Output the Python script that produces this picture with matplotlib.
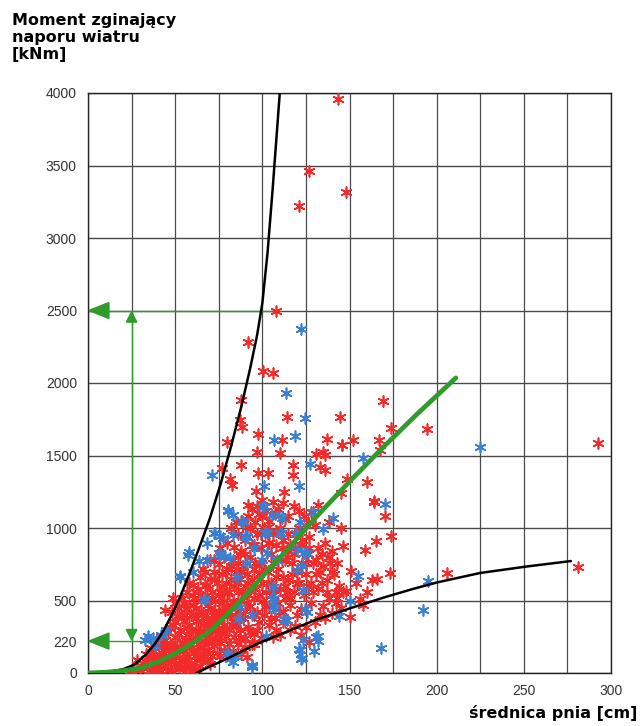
import matplotlib
matplotlib.use("Agg")
import matplotlib.pyplot as plt
from matplotlib.patches import Polygon

# ---------------- data ----------------
x_ticks = [0, 50, 100, 150, 200, 250, 300]
y_ticks = [0, 220, 500, 1000, 1500, 2000, 2500, 3000, 3500, 4000]
x_grid = [0, 25, 50, 75, 100, 125, 150, 175, 200, 225, 250, 275, 300]
y_grid = [0, 500, 1000, 1500, 2000, 2500, 3000, 3500, 4000]

red_pts = [
    # dense bottom
    (30,20),(32,60),(34,35),(35,110),(36,10),(38,80),(38,150),(40,40),(40,190),(41,120),(42,15),(43,70),
    (44,230),(44,160),(45,50),(46,100),(46,280),(47,20),(48,200),(48,140),(49,330),(50,60),(50,250),(51,170),
    (52,110),(52,30),(53,300),(54,210),(54,80),(55,360),(55,150),(56,40),(57,260),(57,120),(58,330),(58,190),
    (59,70),(60,20),(60,240),(60,400),(61,140),(62,300),(62,90),(63,200),(63,360),(64,50),(64,170),(65,260),
    (65,420),(66,120),(66,330),(67,220),(68,80),(68,380),(69,160),(69,290),(70,60),(70,450),(71,240),(71,120),
    (72,340),(72,190),(73,410),(74,270),(74,140),(75,370),(76,210),(76,120),(77,310),(77,480),(78,160),(79,250),
    (80,390),(80,130),(81,300),(81,200),(82,450),(83,150),(84,350),(84,250),(86,200),(86,420),(87,300),(88,130),
    (89,380),(90,240),(90,180),(92,320),(94,200),(95,270),(98,350),(99,240),(36,170),(39,5),(42,250),(47,320),
    (51,390),(56,440),(58,50),(61,10),(63,130),(66,180),(69,340),(74,230),(76,280),(87,250),(95,200),(33,130),
    (37,40),(45,180),(49,100),(53,180),(57,310),(59,400),(64,290),(68,250),(71,380),(78,330),(82,400),(26,30),
    (28,90),(24,15),(91,110),(55,10),(48,5),(44,110),(62,30),(67,150),(73,300),(79,440),(85,330),(93,280),
    (31,45),(33,85),(35,60),(37,120),(39,100),(41,75),(43,140),(45,210),(47,90),(49,170),(50,350),(52,270),
    (53,60),(54,380),(56,230),(57,90),(59,300),(60,160),(61,470),(62,380),(63,270),(64,540),(65,90),(66,410),
    (67,290),(69,210),(70,350),(72,430),(74,360),(76,410),(78,280),(81,420),(83,330),(84,480),(87,380),
    (91,480),(95,400),(97,300),(102,460),(105,380),(110,420),(44,434),(49,515),(55,480),(60,540),
    # band above
    (48,420),(50,480),(52,450),(54,520),(55,400),(57,560),(58,470),(60,610),(61,520),(62,450),(63,580),(64,660),
    (65,500),(66,720),(67,600),(68,540),(69,470),(70,650),(70,780),(71,560),(72,700),(73,500),(74,620),(75,750),
    (75,430),(76,560),(77,680),(78,800),(78,500),(79,620),(80,460),(80,720),(81,560),(82,650),(83,780),(83,500),
    (84,600),(85,700),(85,450),(86,560),(87,820),(87,650),(88,500),(89,740),(90,600),(90,430),(91,680),(92,540),
    (93,800),(93,460),(94,640),(95,720),(95,520),(96,580),(97,420),(98,680),(99,760),(100,500),(100,620),(101,400),
    (102,560),(103,700),(104,460),(105,620),(106,540),(107,380),(108,660),(109,480),(110,580),(112,420),(113,520),
    (115,640),(116,470),(118,560),(120,400),(104,330),(108,300),(112,350),(116,300),(106,250),(110,260),
    (68,610),(71,520),(73,650),(75,540),(77,590),(79,700),(80,550),(82,740),(85,620),(86,760),(88,700),
    (89,560),(90,820),(92,620),(94,880),(96,760),(98,540),(99,860),(101,720),(103,620),(104,900),(106,760),
    (107,580),(108,980),(109,720),(111,860),(112,660),(113,780),(114,560),(115,960),(117,680),(119,860),
    (121,620),(123,920),(125,760),(127,860),(129,560),(131,680),(134,620),(137,560),(140,700),(143,520),
    (58,620),(67,700),(72,780),(76,860),
    # middle cluster
    (80,900),(82,1000),(84,870),(86,960),(88,1050),(88,840),(90,920),(92,1080),(93,1000),(94,1130),(95,880),
    (96,1040),(97,1150),(98,1100),(99,960),(100,1080),(101,1000),(102,1120),(103,900),(104,1050),(105,820),
    (106,960),(107,1100),(108,880),(110,1000),(111,780),(112,920),(113,1060),(114,840),(115,800),(116,880),
    (117,760),(118,820),(119,960),(120,700),(121,1000),(122,880),(123,760),(124,1080),(125,680),(126,820),
    (127,940),(128,620),(129,760),(130,1020),(131,780),(132,860),(133,700),(134,820),(135,740),(136,900),
    (137,640),(138,800),(139,760),(140,840),(141,680),(142,560),(143,760),(144,600),(145,1000),(138,1040),
    (128,1110),(118,1150),(112,1170),(106,1180),(100,1190),(92,1160),(132,1160),
    (97,960),(91,1010),(85,1040),(103,1010),(109,1130),(115,1080),(121,1120),(126,1040),
    # right of green line
    (120,620),(124,540),(128,480),(132,580),(135,460),(138,520),(140,417),(133,403),(142,480),(146,560),
    (148,566),(150,383),(151,704),(154,620),(156,509),(158,470),(125,314),(119,325),(127,211),(116,520),
    (122,440),(130,350),(136,380),(145,450),(160,560),(163,640),(166,647),(173,692),(206,688),(126,600),
    (113,600),(122,260),
    # scattered upper
    (143.6,3959),(127,3464),(148,3315),(121.2,3221),(107.8,2499),(92,2285),(100.6,2085),(105.9,2071),
    (87.8,1883),(114.3,1768),(144.6,1768),(87.2,1745),(88.2,1699),(97.7,1648),(111,1607),(80,1596),
    (137.3,1612),(145.5,1572),(152.2,1607),(96.7,1526),(110,1519),(131,1510),(136,1503),(76.7,1411),
    (87.6,1434),(97.7,1377),(103.4,1381),(117.8,1434),(117.8,1365),(133,1423),(136,1400),(148.4,1336),
    (159.9,1320),(81.5,1336),(82.4,1297),(96.4,1258),(112.4,1250),(164,1181),(169.2,1874),(174,1690),
    (194.2,1683),(166.9,1605),(167.3,1537),(134.6,1523),(145.8,1571),(145.2,1243),(163.8,1186),(170.2,1082),
    (174,945),(165.4,910),(158.7,848),(146.2,876),(292.5,1585),(281.3,729),
]
red_x = [p[0] for p in red_pts]
red_y = [p[1] for p in red_pts]

blue_pts = [
    (122.2,2372),(113.6,1929),(124.5,1761),(106.7,1607),(118.7,1634),(158,1480),(71,1365),(127.3,1439),
    (101.1,1290),(121.2,1290),(170.4,1166),(224.9,1556),(194.8,634),(192.3,435),(167.9,169),(154.8,670),
    (150,497),(144.2,390),(123.5,229),(120.8,165),(122.1,96),(131.7,257),(131.7,222),(129.8,153),(93.8,55),
    (81.7,96),(84.6,119),(112.5,371),(102,257),(105.8,509),(107.3,440),(124.6,440),(57.7,835),(52.9,669),
    (63.5,773),(75,830),(78.8,807),(68.3,899),(72,968),(76,945),(80.2,1117),(88.5,1048),(90.4,945),
    (101,1151),(102.9,968),(110.6,968),(109.6,1082),(119.2,968),(124,830),(123,738),(134.6,991),
    (140.4,1071),(106.7,520),(86.5,371),(66.3,509),(34.6,257),(38.5,188),(32.7,228),(37.5,239),(57.5,814),
    (68.1,779),(85.3,664),(114,366),(131,250),(121.6,159),(93.9,43),(83.4,78),(122.6,101),(79.6,136),
    (91,940),(83.4,952),(52.8,664),(125.4,423),(95,860),(60,700),(45,300),(42,260),(100,780),
    (80.5,1124),(89,1043),(83.4,1090),(100.6,1147),(105.4,1090),(111,1067),(121.6,1043),(129.2,1112),
    (72.8,963),(77.6,929),(90,940),(101.5,963),(110.1,963),(75.7,814),(81.5,791),(91,757),(102.5,826),
    (108.2,779),(119.7,848),(125.4,826),(106.3,595),(123.5,572),(119.7,710),(67.1,503),(87.2,457),
    (106.3,457),(113,366),(93.9,400),
]
blue_x = [p[0] for p in blue_pts]
blue_y = [p[1] for p in blue_pts]

upper_x = [0, 10, 20, 27, 33, 38, 43, 48, 53, 58, 64, 70, 76, 82, 88, 93, 97, 100, 103, 106, 110]
upper_y = [0, 6, 25, 60, 125, 195, 285, 400, 530, 680, 870, 1070, 1300, 1560, 1840, 2100, 2330, 2550, 2900, 3350, 4000]

lower_x = [62, 66, 70, 80, 90, 98, 115, 131, 150, 169, 185, 200, 225, 252, 277]
lower_y = [0, 22, 45, 100, 160, 206, 290, 368, 445, 518, 575, 624, 690, 735, 772]

green_x = [0, 10, 20, 30, 40, 50, 60, 70, 80, 90, 100, 115, 131, 150, 170, 190, 211]
green_y = [0, 5, 15, 35, 75, 135, 205, 290, 405, 530, 665, 860, 1078, 1320, 1565, 1800, 2035]

level_low = 220
level_high = 2500
arrow_x = 25

# ---------------- figure ----------------
W, H = 642, 726
fig = plt.figure(figsize=(W / 100, H / 100), dpi=100)
ax = fig.add_axes([88 / W, 1 - 673 / H, 523 / W, 580 / H])
ax.set_xlim(0, 300)
ax.set_ylim(0, 4000)

grid_col = "#4a4a4a"
for gx in x_grid:
    ax.axvline(gx, color=grid_col, lw=0.9, zorder=1)
for gy in y_grid:
    ax.axhline(gy, color=grid_col, lw=1.0, zorder=1)

green = "#2e9b2a"
ax.plot([0, 110], [level_high, level_high], color=green, lw=1.0, zorder=2)
ax.plot([0, 100], [level_low, level_low], color=green, lw=1.0, zorder=2)
ax.plot([arrow_x, arrow_x], [level_low, level_high], color=green, lw=1.0, zorder=2)

ast = (6, 2, 0)
ax.scatter(red_x, red_y, marker=ast, s=60, color="#f22a2a", linewidths=1.2, zorder=3)
ax.scatter(blue_x, blue_y, marker=ast, s=60, color="#3a80d2", linewidths=1.2, zorder=3.5)

ax.plot(upper_x, upper_y, color="black", lw=1.8, zorder=5, solid_capstyle="round")
ax.plot(lower_x, lower_y, color="black", lw=1.8, zorder=5, solid_capstyle="round")
ax.plot(green_x, green_y, color=green, lw=3.4, zorder=6, solid_capstyle="round")

def tri(pts):
    ax.add_patch(Polygon(pts, closed=True, color=green, zorder=7, clip_on=False))

for lvl in (level_high, level_low):
    tri([(0.5, lvl), (12, lvl + 55), (12, lvl - 55)])
tri([(arrow_x, level_high - 10), (arrow_x - 3, level_high - 80), (arrow_x + 3, level_high - 80)])
tri([(arrow_x, level_low + 8), (arrow_x - 3, level_low + 80), (arrow_x + 3, level_low + 80)])

for s in ax.spines.values():
    s.set_color("#222222")
    s.set_linewidth(1.0)

ax.set_xticks(x_ticks)
ax.set_yticks(y_ticks)
ax.tick_params(length=0, labelsize=10, colors="#333333", pad=8)
for lab in ax.get_xticklabels() + ax.get_yticklabels():
    lab.set_fontfamily("Liberation Sans")

fig.text(12 / W, 1 - 13 / H, "Moment zginający\nnaporu wiatru\n[kNm]", ha="left", va="top",
         fontsize=11.5, fontweight="bold", linespacing=1.15, family="DejaVu Sans")
fig.text(637 / W, 1 - 713 / H, "średnica pnia [cm]", ha="right", va="center",
         fontsize=11.5, fontweight="bold", family="DejaVu Sans")

fig.savefig("out.png", dpi=100)
